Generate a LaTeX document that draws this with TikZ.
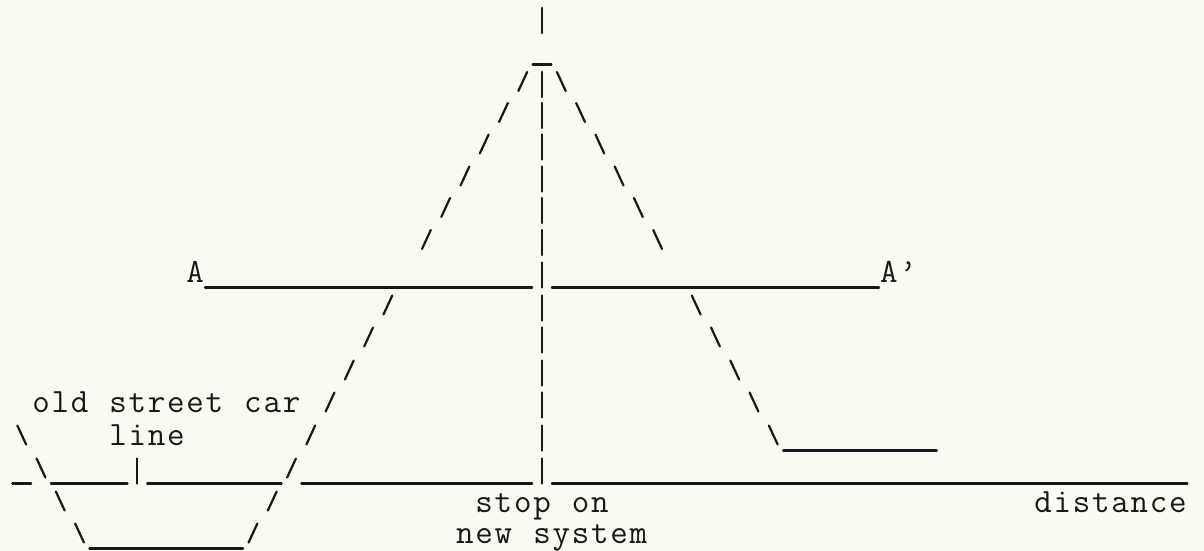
\documentclass[tikz,border=0pt]{standalone}
\usepackage{xcolor}
\definecolor{paper}{RGB}{250,250,241}
\definecolor{inkc}{RGB}{24,24,24}
\newlength\cw
\setlength\cw{9.635pt}
\makeatletter
\newcommand\spreadtext[1]{\@tfor\ch:=#1\do{\makebox[\cw][c]{\ch}}}
\makeatother
\def\rowy{{20.5,52,84.5,115.5,147,179,210.5,242.5,275,308,340,373,405,438,471,504,536}}
\tikzset{
  ink/.style={draw=inkc, line width=1.1pt, line cap=round},
  lbl/.style={inner sep=0pt, outer sep=0pt, anchor=base west, text=inkc,
    font=\fontsize{17pt}{17pt}\selectfont\ttfamily}
}
\begin{document}
\begin{tikzpicture}[x=0.5pt,y=-0.5pt]
\fill[paper] (0,0) rectangle (1204,551);
\useasboundingbox (0,0) rectangle (1204,551);
% vertical bars '|'
\foreach \c/\r in {26/0,26/2,26/3,26/4,26/5,26/6,26/7,26/8,26/9,26/10,26/11,26/12,26/13,26/14,5/14}{
  \pgfmathsetmacro\xx{41+19.27*\c}
  \pgfmathsetmacro\yy{\rowy[\r]}
  \draw[ink] (\xx,\yy-12.5) -- (\xx,\yy+12.5);
}
% slashes '/'
\foreach \c/\r in {25/2,24/3,23/4,22/5,21/6,20/7,18/9,17/10,16/11,15/12,14/13,13/14,12/15,11/16}{
  \pgfmathsetmacro\xx{41+19.27*\c}
  \pgfmathsetmacro\yy{\rowy[\r]}
  \draw[ink] (\xx-4.4,\yy+6.5) -- (\xx+4.4,\yy-12.5);
}
% backslashes
\foreach \c/\r in {27/2,28/3,29/4,30/5,31/6,32/7,34/9,35/10,36/11,37/12,38/13,-1/13,0/14,1/15,2/16}{
  \pgfmathsetmacro\xx{41+19.27*\c}
  \pgfmathsetmacro\yy{\rowy[\r]}
  \draw[ink] (\xx-4.4,\yy-12.5) -- (\xx+4.4,\yy+6.5);
}
% underscore runs
\foreach \r/\a/\b in {1/26/26,8/9/25,8/27/43,13/39/46,14/-1/-1,14/1/4,14/6/12,14/14/25,14/27/59,16/3/10}{
  \pgfmathsetmacro\xa{41+19.27*\a-9.4}
  \pgfmathsetmacro\xb{41+19.27*\b+9.4}
  \pgfmathsetmacro\yy{\rowy[\r]+12.5}
  \draw[ink] (\xa,\yy) -- (\xb,\yy);
}
% labels
\node[lbl] (A) at (185.5,282) {\spreadtext{A}};
\node[lbl] (Ap) at (879.2,282) {\spreadtext{A\textquoteright}};
\node[lbl] (old) at (31.4,412) {\spreadtext{old~street~car}};
\node[lbl] (line) at (108.4,445) {\spreadtext{line}};
\node[lbl] (stop) at (474.6,512) {\spreadtext{stop~on}};
\node[lbl] (dist) at (1033.4,512) {\spreadtext{distance}};
\node[lbl] (newsys) at (455.3,543) {\spreadtext{new~system}};
\end{tikzpicture}
\end{document}
